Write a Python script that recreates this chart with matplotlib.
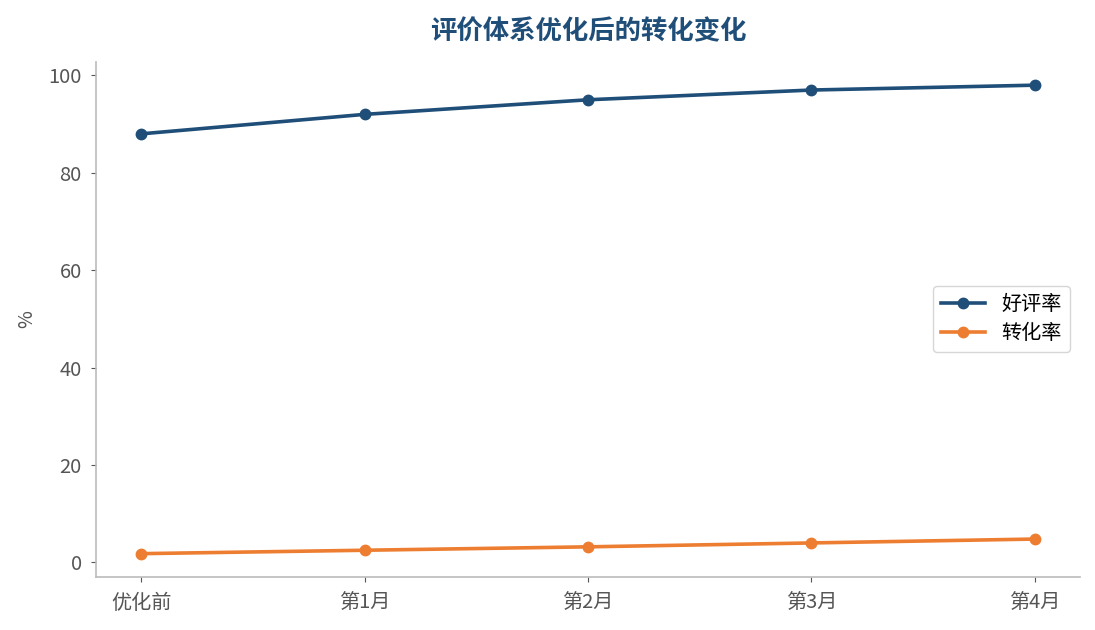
import matplotlib
matplotlib.use('Agg')
import matplotlib.pyplot as plt

plt.rcParams['font.family'] = ['Noto Sans CJK SC', 'DejaVu Sans']

months = ['优化前', '第1月', '第2月', '第3月', '第4月']
good_rate = [88, 92, 95, 97, 98]
conv_rate = [1.8, 2.5, 3.2, 4.0, 4.8]

fig = plt.figure(figsize=(10.95, 6.3), dpi=100)
ax = fig.add_axes([0.088, 0.084, 0.898, 0.818])

ax.plot(months, good_rate, marker='o', color='#1f4e79', linewidth=2.6, markersize=7.5, label='好评率')
ax.plot(months, conv_rate, marker='o', color='#ed7d31', linewidth=2.6, markersize=7.5, label='转化率')

ax.set_title('评价体系优化后的转化变化', fontsize=19, fontweight='bold', color='#1f4e79', pad=16)
ax.set_ylabel('%', fontsize=14, color='#555555', labelpad=8)

for s in ['top', 'right']:
    ax.spines[s].set_visible(False)
for s in ['left', 'bottom']:
    ax.spines[s].set_color('#bbbbbb')
    ax.spines[s].set_linewidth(1.2)
ax.tick_params(colors='#555555', labelsize=14.5)
ax.tick_params(axis='x', pad=8)
ax.tick_params(axis='y', pad=7)
ax.set_yticks([0, 20, 40, 60, 80, 100])

ax.legend(loc='center right', fontsize=14.5, frameon=True, edgecolor='#cccccc',
          handlelength=2.2, borderpad=0.4, labelspacing=0.4)

fig.savefig('out.png', dpi=100)
